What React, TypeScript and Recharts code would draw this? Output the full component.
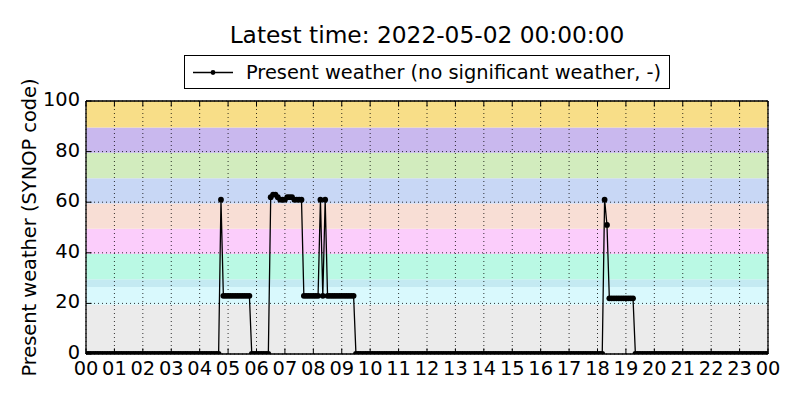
import React from 'react';
import { LineChart, Line, XAxis, YAxis, ReferenceArea, ReferenceLine } from 'recharts';

const FONT = '"DejaVu Sans", sans-serif';
const TICK_LEN = 5.6;

// one reading every 5 minutes, 00:00 .. 24:00
const stepMinutes = 5;
const presentWeather = [
  0, 0, 0, 0, 0, 0, 0, 0, 0, 0, 0, 0, // 00
  0, 0, 0, 0, 0, 0, 0, 0, 0, 0, 0, 0, // 01
  0, 0, 0, 0, 0, 0, 0, 0, 0, 0, 0, 0, // 02
  0, 0, 0, 0, 0, 0, 0, 0, 0, 0, 0, 0, // 03
  0, 0, 0, 0, 0, 0, 0, 0, 0, 61, 23, 23, // 04
  23, 23, 23, 23, 23, 23, 23, 23, 23, 23, 0, 0, // 05
  0, 0, 0, 0, 0, 0, 62, 63, 63, 62, 61, 61, // 06
  61, 62, 62, 62, 61, 61, 61, 61, 23, 23, 23, 23, // 07
  23, 23, 23, 61, 23, 61, 23, 23, 23, 23, 23, 23, // 08
  23, 23, 23, 23, 23, 23, 0, 0, 0, 0, 0, 0, // 09
  0, 0, 0, 0, 0, 0, 0, 0, 0, 0, 0, 0, // 10
  0, 0, 0, 0, 0, 0, 0, 0, 0, 0, 0, 0, // 11
  0, 0, 0, 0, 0, 0, 0, 0, 0, 0, 0, 0, // 12
  0, 0, 0, 0, 0, 0, 0, 0, 0, 0, 0, 0, // 13
  0, 0, 0, 0, 0, 0, 0, 0, 0, 0, 0, 0, // 14
  0, 0, 0, 0, 0, 0, 0, 0, 0, 0, 0, 0, // 15
  0, 0, 0, 0, 0, 0, 0, 0, 0, 0, 0, 0, // 16
  0, 0, 0, 0, 0, 0, 0, 0, 0, 0, 0, 0, // 17
  0, 0, 0, 61, 51, 22, 22, 22, 22, 22, 22, 22, // 18
  22, 22, 22, 22, 0, 0, 0, 0, 0, 0, 0, 0, // 19
  0, 0, 0, 0, 0, 0, 0, 0, 0, 0, 0, 0, // 20
  0, 0, 0, 0, 0, 0, 0, 0, 0, 0, 0, 0, // 21
  0, 0, 0, 0, 0, 0, 0, 0, 0, 0, 0, 0, // 22
  0, 0, 0, 0, 0, 0, 0, 0, 0, 0, 0, 0, // 23
  0,
];

const hourTicks = [0, 1, 2, 3, 4, 5, 6, 7, 8, 9, 10, 11, 12, 13, 14, 15, 16, 17, 18, 19, 20, 21, 22, 23, 24];
const hourLabels = [
  '00', '01', '02', '03', '04', '05', '06', '07', '08', '09', '10', '11',
  '12', '13', '14', '15', '16', '17', '18', '19', '20', '21', '22', '23', '00',
];
const codeTicks = [0, 20, 40, 60, 80, 100];

// SYNOP code bands
const bandFrom = [0, 19.5, 26.5, 29.5, 39.5, 49.5, 59.5, 69.5, 79.5, 89.5];
const bandTo = [19.5, 26.5, 29.5, 39.5, 49.5, 59.5, 69.5, 79.5, 89.5, 100];
const bandColors = [
  '#ebebeb', '#d9f9fd', '#c4eaf2', '#baf9e4', '#fbcdfb',
  '#f8ded5', '#c8d7f5', '#d2ecbe', '#c9b8ee', '#f8de88',
];

const data = presentWeather.map((v, i) => ({ hour: (i * stepMinutes) / 60, code: v }));

function BottomTick({ x, y, payload }: any) {
  return (
    <g>
      <line x1={x} x2={x} y1={y} y2={y - TICK_LEN} stroke="#000" />
      <text x={x} y={y + 20.5} textAnchor="middle" fontSize={19.4} fontFamily={FONT} fill="#000">
        {hourLabels[hourTicks.indexOf(payload.value)]}
      </text>
    </g>
  );
}

function TopTick({ x, y }: any) {
  return <line x1={x} x2={x} y1={y} y2={y + TICK_LEN} stroke="#000" />;
}

function LeftTick({ x, y, payload }: any) {
  return (
    <g>
      <line x1={x} x2={x + TICK_LEN} y1={y} y2={y} stroke="#000" />
      <text x={x - 6} y={y + 5} textAnchor="end" fontSize={19.4} fontFamily={FONT} fill="#000">
        {payload.value}
      </text>
    </g>
  );
}

function RightTick({ x, y }: any) {
  return <line x1={x} x2={x - TICK_LEN} y1={y} y2={y} stroke="#000" />;
}

export default function App() {
  return (
    <div style={{ position: 'absolute', left: 0, top: 0, width: 800, height: 400, background: '#fff', fontFamily: FONT }}>
      <LineChart width={800} height={400} data={data} margin={{ top: 0, right: 0, bottom: 0, left: 0 }}>
        <XAxis
          xAxisId="bottom"
          dataKey="hour"
          type="number"
          domain={[0, 24]}
          ticks={hourTicks}
          interval={0}
          allowDataOverflow
          height={46}
          tickSize={0}
          tickMargin={0}
          tickLine={false}
          axisLine={{ stroke: '#000', strokeWidth: 1.3 }}
          tick={<BottomTick />}
        />
        <XAxis
          xAxisId="top"
          orientation="top"
          dataKey="hour"
          type="number"
          domain={[0, 24]}
          ticks={hourTicks}
          interval={0}
          height={101}
          tickSize={0}
          tickMargin={0}
          tickLine={false}
          axisLine={{ stroke: '#000', strokeWidth: 1.3 }}
          tick={<TopTick />}
        />
        <YAxis
          yAxisId="left"
          type="number"
          domain={[0, 100]}
          ticks={codeTicks}
          interval={0}
          allowDataOverflow
          width={86}
          tickSize={0}
          tickMargin={0}
          tickLine={false}
          axisLine={{ stroke: '#000', strokeWidth: 1.3 }}
          tick={<LeftTick />}
        />
        <YAxis
          yAxisId="right"
          orientation="right"
          type="number"
          domain={[0, 100]}
          ticks={codeTicks}
          interval={0}
          width={32}
          tickSize={0}
          tickMargin={0}
          tickLine={false}
          axisLine={{ stroke: '#000', strokeWidth: 1.3 }}
          tick={<RightTick />}
        />
        {bandColors.map((c, i) => (
          <ReferenceArea
            key={'band' + i}
            xAxisId="bottom"
            yAxisId="left"
            y1={bandFrom[i]}
            y2={bandTo[i]}
            fill={c}
            fillOpacity={1}
            stroke="none"
          />
        ))}
        {hourTicks.map((h) => (
          <ReferenceLine
            key={'gx' + h}
            xAxisId="bottom"
            yAxisId="left"
            x={h}
            stroke="#000"
            strokeWidth={0.8}
            strokeDasharray="1 3"
          />
        ))}
        {codeTicks.map((v) => (
          <ReferenceLine
            key={'gy' + v}
            xAxisId="bottom"
            yAxisId="left"
            y={v}
            stroke="#000"
            strokeWidth={0.8}
            strokeDasharray="1 3"
          />
        ))}
        <Line
          xAxisId="bottom"
          yAxisId="left"
          type="linear"
          dataKey="code"
          stroke="#000"
          strokeWidth={1.3}
          dot={{ r: 2.9, fill: '#000', stroke: '#000', strokeWidth: 0 }}
          activeDot={false}
          isAnimationActive={false}
        />
      </LineChart>

      <div
        style={{
          position: 'absolute', left: 86, top: 23.3, width: 682, textAlign: 'center',
          fontSize: 23.3, lineHeight: '23.3px', color: '#000', whiteSpace: 'nowrap',
        }}
      >
        Latest time: 2022-05-02 00:00:00
      </div>

      <div
        style={{
          position: 'absolute', left: 184, top: 55, width: 484, height: 32,
          border: '1px solid #000', background: '#fff',
        }}
      >
        <svg width={60} height={32} style={{ position: 'absolute', left: 0, top: 0 }}>
          <line x1={8} x2={48} y1={16.5} y2={16.5} stroke="#000" strokeWidth={1.3} />
          <circle cx={28} cy={16.5} r={2.4} fill="#000" />
        </svg>
        <div
          style={{
            position: 'absolute', left: 61, top: 6.6, fontSize: 19.4, lineHeight: '19.4px',
            color: '#000', whiteSpace: 'nowrap',
          }}
        >
          Present weather (no significant weather, -)
        </div>
      </div>

      <svg width={60} height={400} style={{ position: 'absolute', left: 0, top: 0 }}>
        <text
          transform="translate(36, 227.5) rotate(-90)"
          textAnchor="middle"
          fontSize={19.4}
          fontFamily={FONT}
          fill="#000"
        >
          Present weather (SYNOP code)
        </text>
      </svg>
    </div>
  );
}
